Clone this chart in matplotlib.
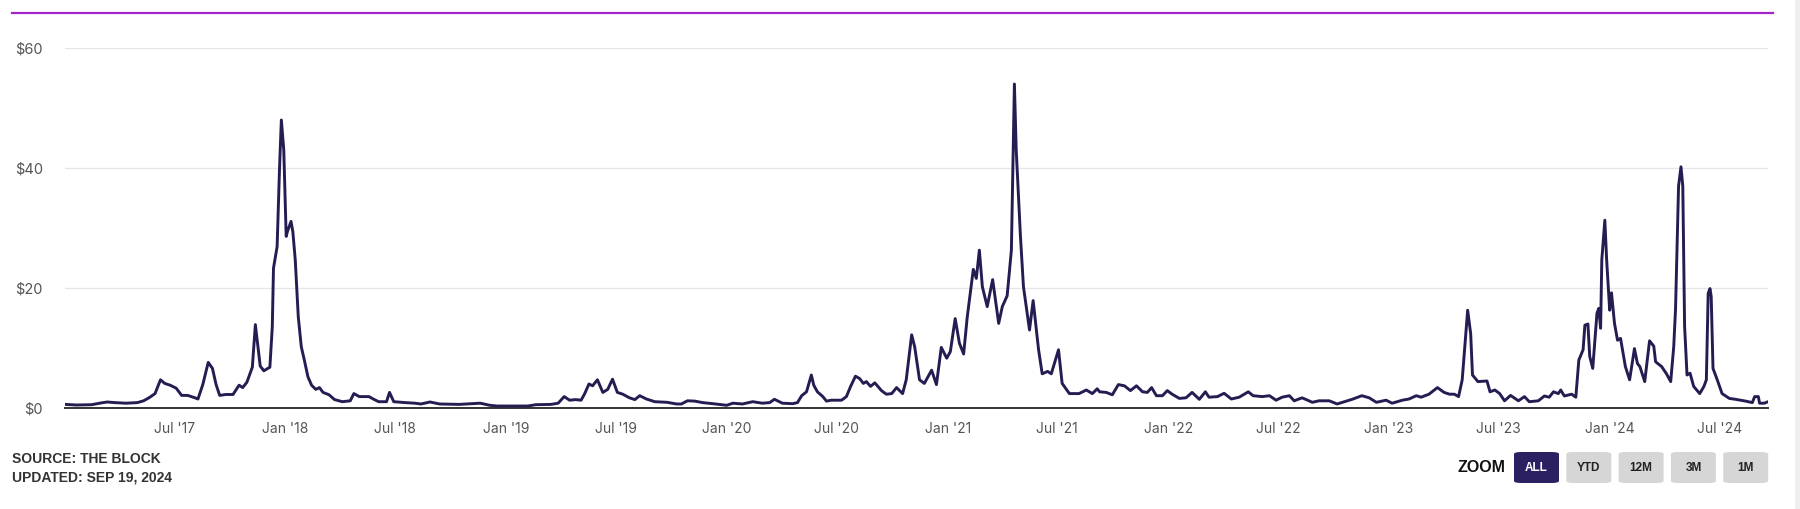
import matplotlib
matplotlib.use("Agg")
import matplotlib.pyplot as plt
from matplotlib.patches import FancyBboxPatch, Rectangle
from matplotlib.ticker import FuncFormatter
import pandas as pd

# average fee, USD
dates = [
    "2017-01-01", "2017-01-20", "2017-02-14", "2017-03-02", "2017-03-12", "2017-03-24",
    "2017-04-12", "2017-05-01", "2017-05-11", "2017-05-20", "2017-05-30", "2017-06-08",
    "2017-06-15", "2017-06-24", "2017-07-04", "2017-07-13", "2017-07-23", "2017-08-04",
    "2017-08-09", "2017-08-17", "2017-08-26", "2017-09-02", "2017-09-08", "2017-09-14",
    "2017-09-24", "2017-10-06", "2017-10-16", "2017-10-22", "2017-10-29", "2017-11-07",
    "2017-11-12", "2017-11-20", "2017-11-26", "2017-12-06", "2017-12-10", "2017-12-12",
    "2017-12-18", "2017-12-22", "2017-12-25", "2017-12-29", "2018-01-02", "2018-01-04",
    "2018-01-10", "2018-01-13", "2018-01-17", "2018-01-22", "2018-01-27", "2018-02-01",
    "2018-02-07", "2018-02-13", "2018-02-20", "2018-02-26", "2018-03-04", "2018-03-14",
    "2018-03-23", "2018-04-05", "2018-04-18", "2018-04-24", "2018-05-03", "2018-05-19",
    "2018-05-26", "2018-06-04", "2018-06-17", "2018-06-22", "2018-06-29", "2018-07-18",
    "2018-08-03", "2018-08-13", "2018-08-28", "2018-09-13", "2018-10-15", "2018-11-19",
    "2018-12-05", "2018-12-17", "2019-01-18", "2019-02-06", "2019-02-19", "2019-03-16",
    "2019-03-28", "2019-04-07", "2019-04-16", "2019-04-26", "2019-05-05", "2019-05-11",
    "2019-05-18", "2019-05-24", "2019-06-01", "2019-06-10", "2019-06-18", "2019-06-26",
    "2019-07-04", "2019-07-13", "2019-07-24", "2019-08-02", "2019-08-10", "2019-08-21",
    "2019-09-04", "2019-09-24", "2019-10-10", "2019-10-18", "2019-10-28", "2019-11-09",
    "2019-11-22", "2019-12-09", "2020-01-01", "2020-01-11", "2020-01-27", "2020-02-13",
    "2020-02-29", "2020-03-12", "2020-03-20", "2020-03-28", "2020-04-02", "2020-04-19",
    "2020-04-27", "2020-05-04", "2020-05-12", "2020-05-20", "2020-05-24", "2020-05-30",
    "2020-06-08", "2020-06-14", "2020-06-22", "2020-07-01", "2020-07-09", "2020-07-17",
    "2020-07-24", "2020-08-01", "2020-08-08", "2020-08-14", "2020-08-19", "2020-08-26",
    "2020-09-02", "2020-09-13", "2020-09-21", "2020-09-30", "2020-10-08", "2020-10-18",
    "2020-10-24", "2020-11-02", "2020-11-07", "2020-11-15", "2020-11-23", "2020-12-05",
    "2020-12-13", "2020-12-21", "2020-12-30", "2021-01-05", "2021-01-13", "2021-01-20",
    "2021-01-27", "2021-02-02", "2021-02-12", "2021-02-17", "2021-02-22", "2021-02-27",
    "2021-03-07", "2021-03-16", "2021-03-26", "2021-04-01", "2021-04-09", "2021-04-16",
    "2021-04-21", "2021-04-24", "2021-05-01", "2021-05-06", "2021-05-16", "2021-05-22",
    "2021-05-31", "2021-06-06", "2021-06-15", "2021-06-21", "2021-07-03", "2021-07-09",
    "2021-07-21", "2021-08-06", "2021-08-18", "2021-08-28", "2021-09-05", "2021-09-09",
    "2021-09-20", "2021-09-25", "2021-09-30", "2021-10-10", "2021-10-20", "2021-10-30",
    "2021-11-09", "2021-11-19", "2021-11-27", "2021-12-04", "2021-12-12", "2021-12-22",
    "2021-12-30", "2022-01-07", "2022-01-19", "2022-01-30", "2022-02-09", "2022-02-21",
    "2022-03-03", "2022-03-09", "2022-03-23", "2022-04-03", "2022-04-15", "2022-04-28",
    "2022-05-13", "2022-05-21", "2022-06-05", "2022-06-17", "2022-06-28", "2022-07-08",
    "2022-07-20", "2022-07-28", "2022-08-10", "2022-08-27", "2022-09-07", "2022-09-24",
    "2022-10-07", "2022-10-19", "2022-11-01", "2022-11-17", "2022-11-29", "2022-12-11",
    "2022-12-27", "2023-01-06", "2023-01-23", "2023-02-03", "2023-02-15", "2023-02-23",
    "2023-03-08", "2023-03-22", "2023-04-02", "2023-04-11", "2023-04-19", "2023-04-26",
    "2023-05-02", "2023-05-11", "2023-05-16", "2023-05-19", "2023-05-28", "2023-06-12",
    "2023-06-17", "2023-06-25", "2023-07-03", "2023-07-11", "2023-07-21", "2023-08-03",
    "2023-08-13", "2023-08-21", "2023-09-05", "2023-09-15", "2023-09-23", "2023-09-30",
    "2023-10-08", "2023-10-12", "2023-10-18", "2023-10-30", "2023-11-06", "2023-11-11",
    "2023-11-18", "2023-11-21", "2023-11-26", "2023-11-29", "2023-12-04", "2023-12-11",
    "2023-12-14", "2023-12-17", "2023-12-19", "2023-12-24", "2023-12-27", "2024-01-01",
    "2024-01-04", "2024-01-09", "2024-01-14", "2024-01-19", "2024-01-27", "2024-02-03",
    "2024-02-11", "2024-02-16", "2024-02-20", "2024-02-28", "2024-03-07", "2024-03-14",
    "2024-03-17", "2024-03-27", "2024-04-04", "2024-04-11", "2024-04-16", "2024-04-19",
    "2024-04-24", "2024-04-28", "2024-05-01", "2024-05-04", "2024-05-08", "2024-05-13",
    "2024-05-19", "2024-05-29", "2024-06-05", "2024-06-09", "2024-06-12", "2024-06-15",
    "2024-06-17", "2024-06-20", "2024-06-27", "2024-07-05", "2024-07-17", "2024-07-27",
    "2024-08-13", "2024-08-24", "2024-08-28", "2024-09-03", "2024-09-05", "2024-09-13",
    "2024-09-19",
]
fees = [
    0.6, 0.5, 0.55, 0.85, 1.0, 0.9,
    0.8, 0.9, 1.2, 1.7, 2.4, 4.7,
    4.1, 3.8, 3.3, 2.1, 2.1, 1.7,
    1.5, 3.9, 7.6, 6.6, 3.9, 2.1,
    2.25, 2.25, 3.8, 3.4, 4.3, 6.8,
    13.9, 7.0, 6.2, 6.8, 13.5, 23.3,
    26.9, 40.0, 48.0, 43.0, 28.6, 29.4,
    31.1, 29.4, 24.7, 15.2, 10.2, 8.0,
    5.2, 3.8, 3.1, 3.4, 2.6, 2.2,
    1.4, 1.05, 1.2, 2.4, 1.9, 1.9,
    1.5, 1.05, 1.05, 2.6, 1.05, 0.9,
    0.8, 0.67, 1.0, 0.67, 0.6, 0.8,
    0.45, 0.33, 0.33, 0.33, 0.55, 0.6,
    0.8, 1.9, 1.3, 1.4, 1.3, 2.4,
    4.0, 3.7, 4.7, 2.6, 3.1, 4.8,
    2.6, 2.3, 1.7, 1.4, 2.05, 1.5,
    1.05, 0.95, 0.67, 0.67, 1.2, 1.15,
    0.9, 0.72, 0.45, 0.8, 0.67, 1.05,
    0.8, 0.9, 1.45, 1.05, 0.8, 0.72,
    0.9, 2.05, 2.7, 5.5, 3.8, 2.7,
    1.9, 1.15, 1.3, 1.3, 1.3, 1.9,
    3.6, 5.3, 4.9, 4.1, 4.4, 3.6,
    4.2, 2.9, 2.3, 2.4, 3.4, 2.4,
    4.7, 12.2, 10.2, 4.7, 4.1, 6.3,
    3.9, 10.1, 8.3, 9.4, 14.9, 10.8,
    9.0, 15.2, 23.1, 21.6, 26.3, 20.2,
    16.9, 21.4, 14.1, 16.9, 18.7, 26.3,
    54.0, 43.0, 28.6, 20.2, 13.0, 17.9,
    9.7, 5.7, 6.1, 5.7, 9.7, 4.1,
    2.4, 2.4, 3.0, 2.4, 3.2, 2.7,
    2.6, 2.4, 2.2, 3.9, 3.7, 2.9,
    3.7, 2.7, 2.6, 3.4, 2.05, 2.05,
    2.9, 2.3, 1.6, 1.7, 2.6, 1.45,
    2.7, 1.8, 1.9, 2.45, 1.5, 1.8,
    2.7, 2.05, 1.9, 2.05, 1.3, 1.8,
    2.05, 1.2, 1.7, 0.95, 1.2, 1.2,
    0.67, 1.05, 1.45, 2.05, 1.7, 0.95,
    1.3, 0.8, 1.3, 1.5, 2.05, 1.8,
    2.3, 3.4, 2.6, 2.3, 2.3, 1.9,
    4.7, 16.3, 12.4, 5.5, 4.4, 4.5,
    2.7, 3.0, 2.4, 1.2, 2.1, 1.2,
    1.9, 1.05, 1.2, 2.0, 1.8, 2.7,
    2.4, 3.0, 2.0, 2.3, 1.8, 8.0,
    9.7, 13.8, 14.0, 8.6, 6.6, 15.8,
    16.6, 13.3, 24.7, 31.3, 24.7, 16.3,
    19.2, 14.1, 11.3, 11.6, 6.9, 4.7,
    9.9, 7.4, 6.9, 4.4, 11.2, 10.3,
    7.7, 6.9, 5.7, 4.4, 10.2, 16.5,
    37.0, 40.2, 37.0, 13.6, 5.5, 5.8,
    3.6, 2.4, 3.6, 4.7, 19.1, 19.9,
    18.6, 6.6, 4.7, 2.4, 1.6, 1.45,
    1.15, 0.9, 1.9, 1.9, 0.8, 0.8,
    1.05,
]

y_ticks = [0, 20, 40, 60]
zoom_buttons = ["ALL", "YTD", "12M", "3M", "1M"]
footer_lines = ["SOURCE: THE BLOCK", "UPDATED: SEP 19, 2024"]

line_color = "#231d52"
W, H = 1800, 509

x = pd.to_datetime(dates)

fig = plt.figure(figsize=(18, 5.09), dpi=100)
ax = fig.add_axes([65 / W, 1 - 408 / H, 1703 / W, 360 / H])

ax.plot(x, fees, color=line_color, lw=2.1, solid_joinstyle="round",
        solid_capstyle="round", zorder=3)

ax.set_xlim(x[0], x[-1])
ax.set_ylim(0, 60)
ax.set_yticks(y_ticks)
ax.yaxis.set_major_formatter(FuncFormatter(lambda v, p: f"${v:.0f}"))
ax.grid(axis="y", color="#e6e6e6", lw=1)
ax.set_axisbelow(True)

# half-year ticks, skipping the one sitting on the left edge
xt = pd.date_range(x[0], x[-1], freq="6MS")
xt = xt[xt > x[0]]
ax.set_xticks(xt)
ax.set_xticklabels([d.strftime("%b '%y") for d in xt])

for s in ["top", "right", "left"]:
    ax.spines[s].set_visible(False)
ax.spines["bottom"].set_color("#333333")
ax.spines["bottom"].set_linewidth(1.4)

ax.tick_params(axis="y", length=0, pad=16, labelsize=10.5, labelcolor="#555555")
ax.tick_params(axis="x", length=0, pad=10, labelsize=10, labelcolor="#555555")
for lab in ax.get_xticklabels() + ax.get_yticklabels():
    lab.set_family("Inter")

# purple rule at the top
fig.add_artist(plt.Line2D([12 / W, 1773 / W], [1 - 13 / H, 1 - 13 / H],
                          color="#a424c9", lw=1.6))
# scrollbar strip on the right
fig.add_artist(Rectangle((1795 / W, 0), 5 / W, 1, color="#efefef", lw=0))

# footer
for i, line in enumerate(footer_lines):
    fig.text(12 / W, 1 - (459 + 18 * i) / H, line, ha="left", va="center",
             fontsize=10, fontweight="bold", color="#333333", family="Liberation Sans")

# zoom controls
fig.text(1457 / W, 1 - 467 / H, "ZOOM", ha="left", va="center", fontsize=11.5,
         fontweight="bold", color="#111111", family="Liberation Sans")
bx0, bw, gap = 1514, 45, 7.3
for i, name in enumerate(zoom_buttons):
    left = bx0 + i * (bw + gap)
    active = i == 0
    fig.add_artist(FancyBboxPatch((left / W, 1 - 483 / H), bw / W, 31 / H,
                                  boxstyle="round,pad=0,rounding_size=0.004",
                                  fc="#2b2162" if active else "#d6d6d6", ec="none",
                                  mutation_aspect=H / W * 3.5))
    fig.text((left + bw / 2) / W, 1 - 468 / H, name, ha="center", va="center",
             fontsize=8.5, fontweight="bold", color="white" if active else "#222222",
             family="Liberation Sans")

fig.savefig("out.png", dpi=100)
